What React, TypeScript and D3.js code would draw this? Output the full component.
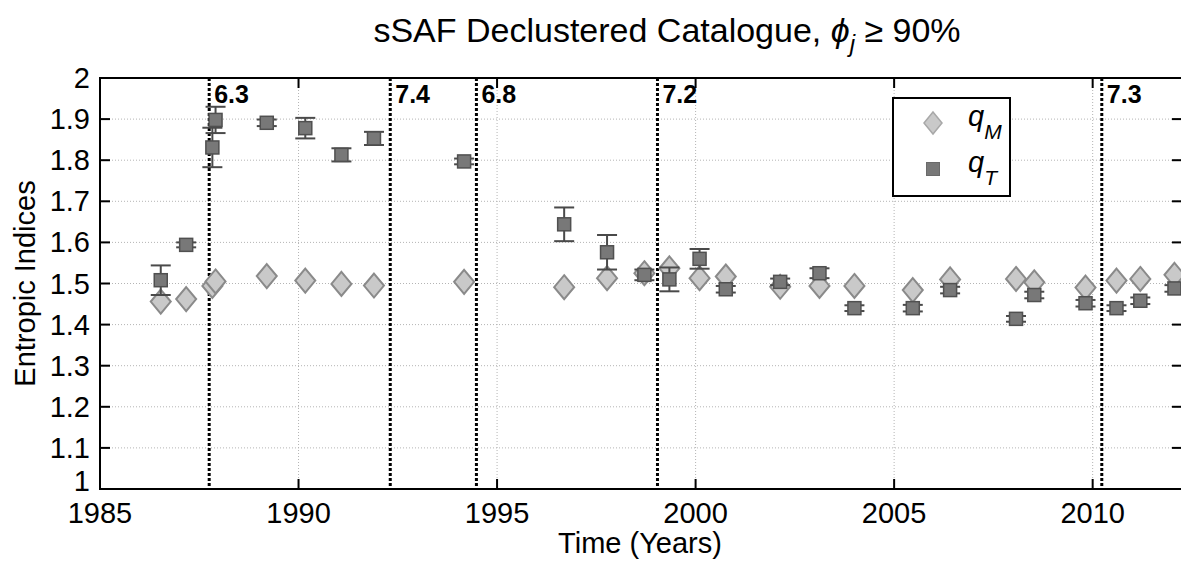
import React, { useEffect } from "react";
import * as d3 from "d3";

const times = [1986.53, 1987.17, 1987.83, 1987.91, 1989.2, 1990.17, 1991.08, 1991.9, 1994.17, 1996.69, 1997.77, 1998.71, 1999.34, 2000.1, 2000.76, 2002.13, 2003.12, 2004.0, 2005.47, 2006.41, 2008.07, 2008.53, 2009.82, 2010.6, 2011.2, 2012.06];
const qT = [1.508, 1.594, 1.831, 1.898, 1.891, 1.878, 1.813, 1.853, 1.797, 1.644, 1.576, 1.521, 1.510, 1.560, 1.486, 1.504, 1.525, 1.440, 1.440, 1.484, 1.414, 1.472, 1.452, 1.440, 1.458, 1.488];
const qTErr = [0.036, 0.006, 0.048, 0.032, 0.008, 0.025, 0.016, 0.016, 0.007, 0.041, 0.042, 0.013, 0.029, 0.024, 0.008, 0.008, 0.012, 0.007, 0.008, 0.008, 0.007, 0.008, 0.008, 0.007, 0.008, 0.008];
const qM = [1.456, 1.462, 1.494, 1.505, 1.518, 1.507, 1.499, 1.495, 1.504, 1.491, 1.513, 1.525, 1.537, 1.513, 1.517, 1.492, 1.494, 1.494, 1.484, 1.510, 1.511, 1.503, 1.490, 1.507, 1.511, 1.521];

const quakeTimes = [1987.75, 1992.31, 1994.48, 1999.04, 2010.23];
const quakeMags = ["6.3", "7.4", "6.8", "7.2", "7.3"];

const xTicks = [1985, 1990, 1995, 2000, 2005, 2010];
const yTicks = [1, 1.1, 1.2, 1.3, 1.4, 1.5, 1.6, 1.7, 1.8, 1.9, 2];

const W = 1181;
const H = 561;
const FONT = "'Liberation Sans', Arial, Helvetica, sans-serif";

export default function App() {
  useEffect(() => {
    document.body.style.margin = "0";
  }, []);

  const left = 100, right = 1182, top = 78, bottom = 489;
  const x = d3.scaleLinear().domain([1985, 2012.25]).range([left, right]);
  const y = d3.scaleLinear().domain([1, 2]).range([bottom, top]);

  const diamond = (cx: number, cy: number, hw = 10, hh = 12) =>
    `M${cx},${cy - hh}L${cx + hw},${cy}L${cx},${cy + hh}L${cx - hw},${cy}Z`;
  const sq = 13;

  return (
    <svg width={W} height={H} style={{ display: "block", background: "#fff" }} fontFamily={FONT}>
      <defs>
        <clipPath id="plotclip">
          <rect x={left} y={top} width={right - left} height={bottom - top} />
        </clipPath>
      </defs>
      {/* grid */}
      {xTicks.map((t) => (
        <line key={"gx" + t} x1={x(t)} x2={x(t)} y1={top} y2={bottom} stroke="#b4b4b4" strokeWidth={1} strokeDasharray="1,2" />
      ))}
      {yTicks.map((t) => (
        <line key={"gy" + t} x1={left} x2={right} y1={y(t)} y2={y(t)} stroke="#b4b4b4" strokeWidth={1} strokeDasharray="1,2" />
      ))}
      {/* ticks */}
      {xTicks.map((t) => (
        <g key={"tx" + t}>
          <line x1={x(t)} x2={x(t)} y1={bottom} y2={bottom - 10} stroke="#000" strokeWidth={2} />
          <line x1={x(t)} x2={x(t)} y1={top} y2={top + 10} stroke="#000" strokeWidth={2} />
          <text x={x(t)} y={523} textAnchor="middle" fontSize={29} fill="#000">{t}</text>
        </g>
      ))}
      {yTicks.map((t, i) => (
        <g key={"ty" + t}>
          <line x1={left} x2={left + 10} y1={y(t)} y2={y(t)} stroke="#000" strokeWidth={2} />
          <line x1={right} x2={right - 10} y1={y(t)} y2={y(t)} stroke="#000" strokeWidth={2} />
          <text x={90} y={i === 0 ? y(t) + 2 : y(t) + 10} textAnchor="end" fontSize={29} fill="#000">{d3.format("")(+t.toFixed(1))}</text>
        </g>
      ))}
      {/* quake lines */}
      {quakeTimes.map((t, i) => (
        <g key={"q" + i}>
          <line x1={x(t)} x2={x(t)} y1={top} y2={bottom} stroke="#000" strokeWidth={3} strokeDasharray="3,2" />
          <text x={x(t) + 5} y={103} fontSize={25} fontWeight="bold" fill="#000">{quakeMags[i]}</text>
        </g>
      ))}
      <g clipPath="url(#plotclip)">
        {/* qM diamonds */}
        {times.map((t, i) => (
          <path key={"m" + i} d={diamond(x(t), y(qM[i]))} fill="#c9c9c9" stroke="#8a8a8a" strokeWidth={2} />
        ))}
        {/* qT error bars */}
        {times.map((t, i) => {
          const cx = x(t);
          const y1 = y(qT[i] + qTErr[i]);
          const y2 = y(qT[i] - qTErr[i]);
          return (
            <g key={"e" + i} stroke="#4a4a4a" strokeWidth={2}>
              <line x1={cx} x2={cx} y1={y1} y2={y2} />
              <line x1={cx - 10} x2={cx + 10} y1={y1} y2={y1} />
              <line x1={cx - 10} x2={cx + 10} y1={y2} y2={y2} />
            </g>
          );
        })}
        {/* qT squares */}
        {times.map((t, i) => (
          <rect key={"t" + i} x={x(t) - sq / 2} y={y(qT[i]) - sq / 2} width={sq} height={sq} fill="#787878" stroke="#505050" strokeWidth={1.5} />
        ))}
      </g>
      {/* axes box */}
      <rect x={left} y={top} width={right - left} height={bottom - top} fill="none" stroke="#000" strokeWidth={2} />
      {/* legend */}
      <rect x={893} y={98} width={117} height={98} fill="#fff" stroke="#000" strokeWidth={2} />
      <path d={diamond(933, 123, 9, 11)} fill="#c9c9c9" stroke="#a8a8a8" strokeWidth={1.5} />
      <rect x={933 - 6.5} y={169 - 6.5} width={13} height={13} fill="#787878" stroke="#6a6a6a" strokeWidth={1} />
      <text x={968} y={126} fontSize={29} fontStyle="italic" fill="#000">
        q<tspan fontSize={21} dy={13}>M</tspan>
      </text>
      <text x={968} y={172} fontSize={29} fontStyle="italic" fill="#000">
        q<tspan fontSize={21} dy={13}>T</tspan>
      </text>
      {/* title */}
      <text x={667} y={42} textAnchor="middle" fontSize={34} fill="#000">
        sSAF Declustered Catalogue, <tspan fontStyle="italic">ϕ</tspan>
        <tspan fontStyle="italic" fontSize={24} dy={10}>j</tspan>
        <tspan dy={-10}> ≥ 90%</tspan>
      </text>
      {/* axis labels */}
      <text x={640} y={553} textAnchor="middle" fontSize={29} fill="#000">Time (Years)</text>
      <text transform={`translate(35,${(top + bottom) / 2}) rotate(-90)`} textAnchor="middle" fontSize={29} fill="#000">Entropic Indices</text>
    </svg>
  );
}
